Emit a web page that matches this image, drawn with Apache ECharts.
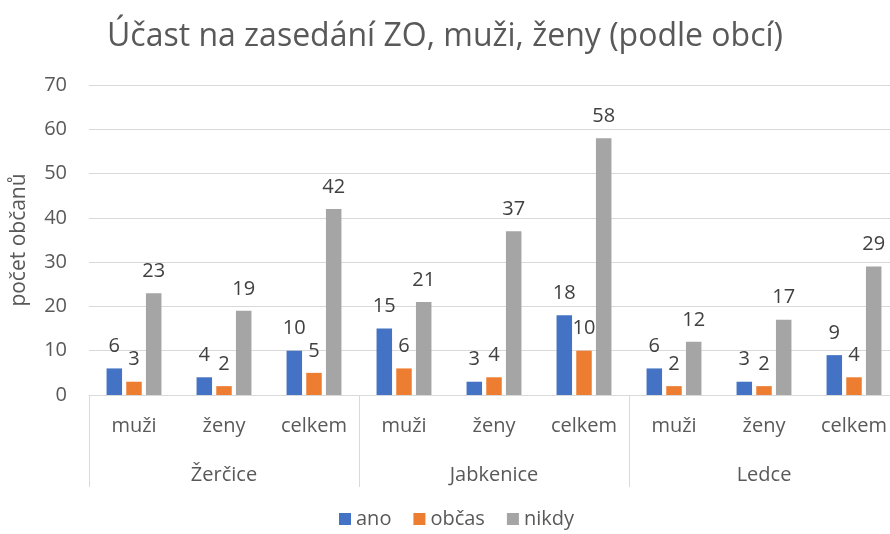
<!DOCTYPE html>
<html><head><meta charset="utf-8">
<script src="https://cdn.jsdelivr.net/npm/echarts@6/dist/echarts.min.js"></script>
<style>html,body{margin:0;padding:0;background:#fff}#c{width:890px;height:534px}</style>
</head><body><div id="c"></div>
<script>
const subCategories = ['muži','ženy','celkem','muži','ženy','celkem','muži','ženy','celkem'];
const groups = ['Žerčice','Jabkenice','Ledce'];
const seriesNames = ['ano','občas','nikdy'];
const ano   = [6,4,10, 15,3,18, 6,3,9];
const obcas = [3,2,5, 6,4,10, 2,2,4];
const nikdy = [23,19,42, 21,37,58, 12,17,29];
const yTicks = {min:0, max:70, interval:10};
const colors = ['#4472C4','#ED7D31','#A5A5A5'];
const FONT = 'Open Sans';

const chart = echarts.init(document.getElementById('c'));
const mk = (name, data, color) => ({
  name, type:'bar', data, itemStyle:{color},
  barGap:'27%', barCategoryGap:'39%',
  label:{show:true, position:'top', distance:12, color:'#404040', fontSize:20, fontFamily:FONT}
});
chart.setOption({
  animation:false,
  textStyle:{fontFamily:FONT},
  title:{text:'Účast na zasedání ZO, muži, ženy (podle obcí)', left:'center', top:16,
    textStyle:{fontSize:32, fontWeight:'normal', color:'#595959', fontFamily:FONT}},
  grid:{left:89, right:-9, top:85, bottom:139, containLabel:false, outerBoundsMode:'none'},
  legend:{bottom:0, left:334, itemWidth:12, itemHeight:12, itemGap:22,
    textStyle:{fontSize:20, color:'#595959', fontFamily:FONT}, icon:'rect'},
  xAxis:[
    {type:'category', data:subCategories, axisLine:{lineStyle:{color:'#D9D9D9'}},
     axisTick:{show:false}, axisLabel:{color:'#595959', fontSize:20, margin:21, fontFamily:FONT}},
    {type:'category', data:groups, position:'bottom', offset:0,
     axisLine:{show:false},
     axisTick:{show:true, length:92, lineStyle:{color:'#D9D9D9'}},
     axisLabel:{color:'#595959', fontSize:20, margin:70, fontFamily:FONT}}
  ],
  yAxis:{type:'value', min:yTicks.min, max:yTicks.max, interval:yTicks.interval,
    name:'počet občanů', nameLocation:'middle', nameGap:59, nameRotate:90,
    nameTextStyle:{fontSize:21, color:'#595959', fontFamily:FONT},
    axisLine:{show:false}, axisTick:{show:false},
    axisLabel:{color:'#595959', fontSize:20, margin:22, fontFamily:FONT},
    splitLine:{lineStyle:{color:'#D9D9D9'}}},
  series:[mk(seriesNames[0], ano, colors[0]), mk(seriesNames[1], obcas, colors[1]), mk(seriesNames[2], nikdy, colors[2])]
});
</script></body></html>
